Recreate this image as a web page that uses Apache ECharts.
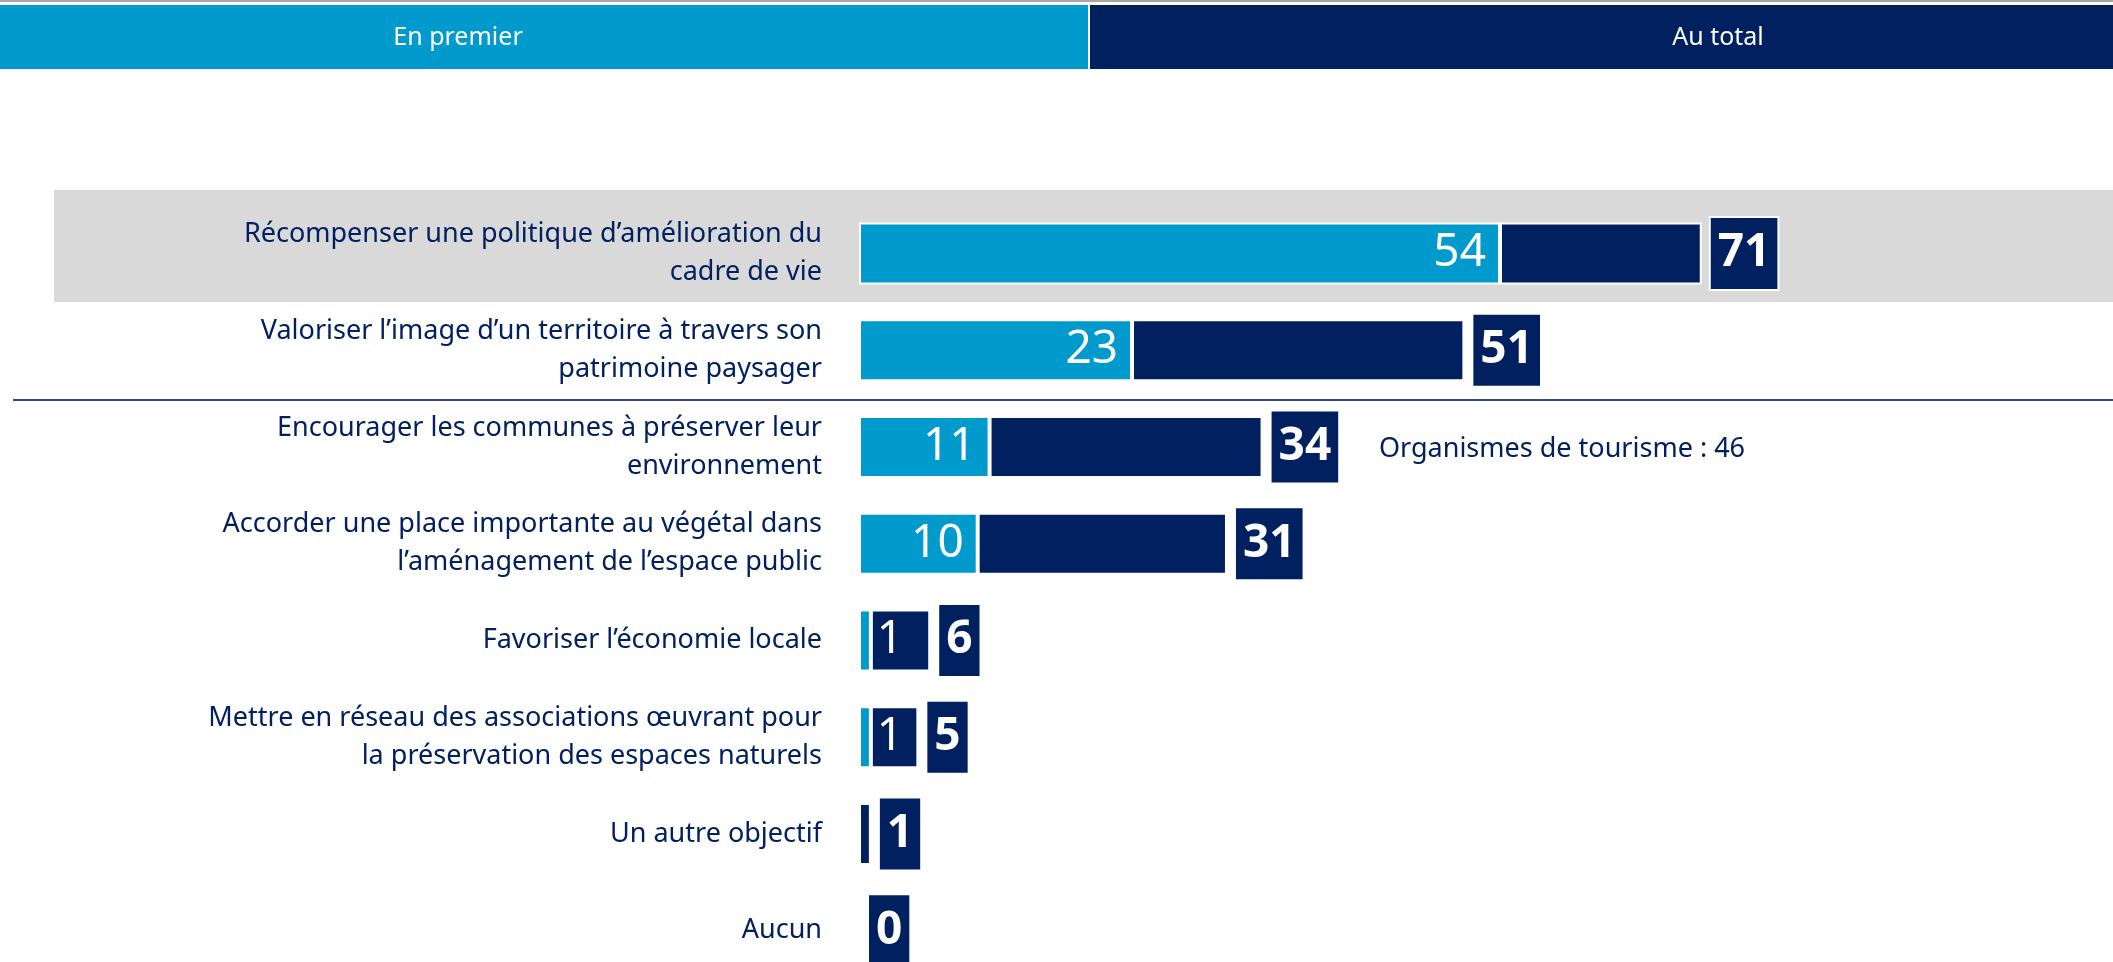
<!DOCTYPE html>
<html>
<head>
<meta charset="utf-8">
<script src="https://cdn.jsdelivr.net/npm/echarts@6/dist/echarts.min.js"></script>
<style>
  html, body { margin: 0; padding: 0; background: #fff; }
  #main { width: 2113px; height: 962px; }
</style>
</head>
<body>
<div id="main"></div>
<script>
// données
var categories = [
    'Récompenser une politique d\u2019amélioration du\ncadre de vie',
    'Valoriser l\u2019image d\u2019un territoire à travers son\npatrimoine paysager',
    'Encourager les communes à préserver leur\nenvironnement',
    'Accorder une place importante au végétal dans\nl\u2019aménagement de l\u2019espace public',
    'Favoriser l\u2019économie locale',
    'Mettre en réseau des associations œuvrant pour\nla préservation des espaces naturels',
    'Un autre objectif',
    'Aucun'
];
var firstValues = [54, 23, 11, 10, 1, 1, 0, 0];
var totalValues = [71, 51, 34, 31, 6, 5, 1, 0];
var headerLabels = ['En premier', 'Au total'];
var noteText = 'Organismes de tourisme : 46';

var LIGHT = '#009ACD';
var DARK = '#002060';
var FONT = 'Noto Sans';

// reste = total - en premier (empilé)
var restValues = totalValues.map(function (t, i) { return t - firstValues[i]; });

var myChart = echarts.init(document.getElementById('main'));

var option = {
    backgroundColor: '#fff',
    animation: false,
    textStyle: { fontFamily: FONT },
    graphic: [
        { type: 'rect', shape: { x: 0, y: 0, width: 2113, height: 2 }, style: { fill: '#A6A6A6' } },
        { type: 'rect', shape: { x: 0, y: 5, width: 1088, height: 64 }, style: { fill: LIGHT } },
        { type: 'rect', shape: { x: 1090, y: 5, width: 1023, height: 64 }, style: { fill: DARK } },
        { type: 'text', x: 458, y: 38, style: { text: headerLabels[0], fill: '#fff', font: '25px ' + FONT, textAlign: 'center', textVerticalAlign: 'middle' } },
        { type: 'text', x: 1718, y: 38, style: { text: headerLabels[1], fill: '#fff', font: '25px ' + FONT, textAlign: 'center', textVerticalAlign: 'middle' } },
        // bandeau gris sur la première ligne
        { type: 'rect', z: -10, shape: { x: 54, y: 190, width: 2059, height: 112 }, style: { fill: '#D9D9D9' } },
        // séparateur
        { type: 'line', shape: { x1: 13, y1: 400, x2: 2113, y2: 400 }, style: { stroke: '#2F4596', lineWidth: 2 } },
        { type: 'text', x: 1379, y: 449, style: { text: noteText, fill: DARK, font: '27px ' + FONT, textAlign: 'left', textVerticalAlign: 'middle' } }
    ],
    grid: {
        left: 859,
        top: 205,
        width: 1187,
        height: 774,
        outerBoundsMode: 'none'
    },
    xAxis: {
        type: 'value',
        min: 0,
        max: 100,
        show: false
    },
    yAxis: {
        type: 'category',
        inverse: true,
        data: categories,
        axisLine: { show: false },
        axisTick: { show: false },
        splitLine: { show: false },
        axisLabel: {
            color: DARK,
            fontSize: 27,
            lineHeight: 38,
            align: 'right',
            margin: 37
        }
    },
    series: [
        {
            name: headerLabels[0],
            type: 'bar',
            stack: 'a',
            barWidth: 62,
            data: firstValues.map(function (v) {
                if (v > 0 && v < 3) {
                    return { value: v, label: { position: 'right', distance: 6 } };
                }
                return v;
            }),
            itemStyle: { color: LIGHT, borderColor: '#fff', borderWidth: 2 },
            label: {
                show: true,
                position: 'insideRight',
                distance: 14,
                color: '#fff',
                fontSize: 46,
                formatter: function (p) { return p.value > 0 ? p.value : ''; }
            }
        },
        {
            name: headerLabels[1],
            type: 'bar',
            stack: 'a',
            barWidth: 62,
            data: restValues,
            itemStyle: { color: DARK, borderColor: '#fff', borderWidth: 2 },
            label: {
                show: true,
                position: 'right',
                distance: 9,
                color: '#fff',
                fontSize: 46,
                fontWeight: 'bold',
                lineHeight: 71,
                padding: [0, 7],
                backgroundColor: DARK,
                borderColor: '#fff',
                borderWidth: 2,
                formatter: function (p) { return totalValues[p.dataIndex]; }
            }
        }
    ]
};

myChart.setOption(option);
</script>
</body>
</html>
